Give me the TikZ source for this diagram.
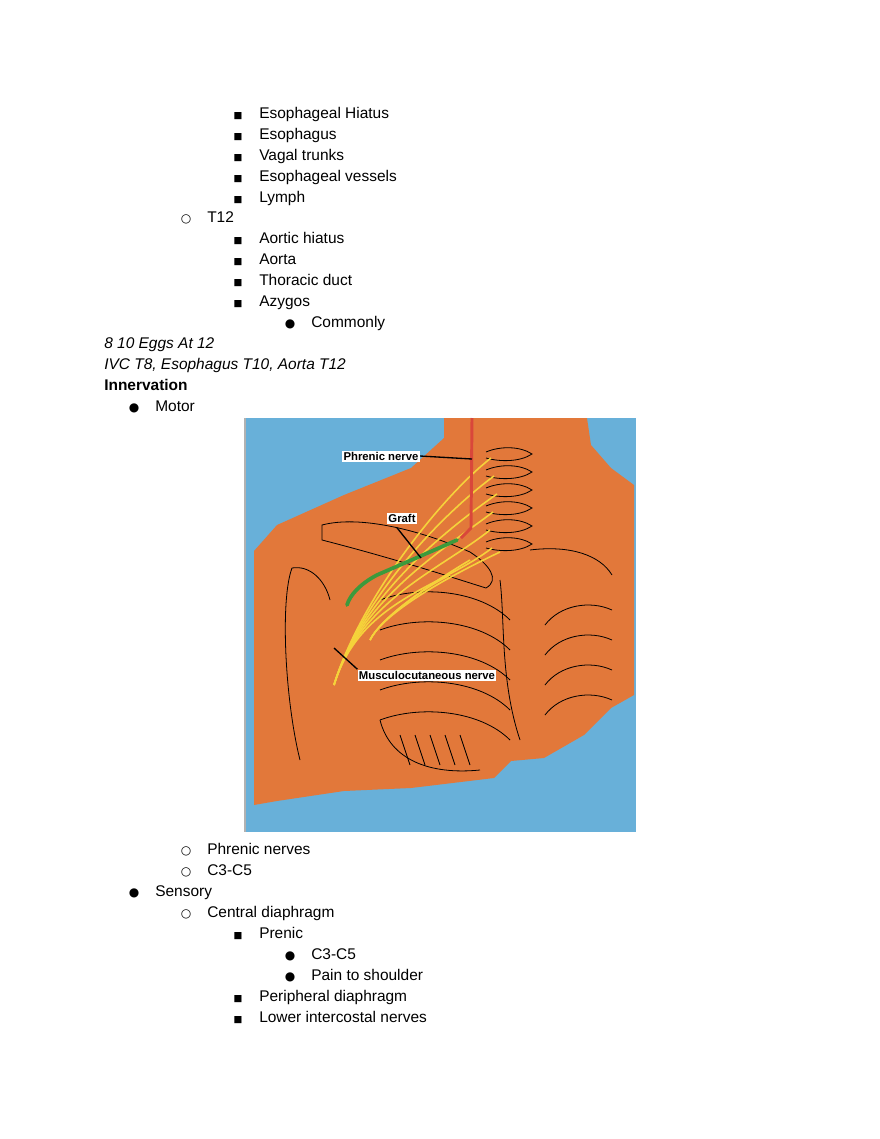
\documentclass[tikz,border=0pt]{standalone}
\usepackage{fontspec}
\setmainfont{Liberation Sans}
\newfontfamily\symfont{DejaVu Sans}
\usetikzlibrary{positioning,calc}
\definecolor{skyblue}{HTML}{68B0D9}
\definecolor{bodyorange}{HTML}{E2783A}
\definecolor{nervered}{HTML}{D9473A}
\definecolor{nerveyellow}{HTML}{F5D23A}
\definecolor{graftgreen}{HTML}{3C9A3C}
\tikzset{every node/.append style={inner sep=0pt},
  txt/.style={anchor=base west,font=\fontsize{11.6}{14}\selectfont},
  sq/.style={anchor=base,font=\symfont\fontsize{7}{8}\selectfont},
  circ/.style={anchor=base,font=\symfont\fontsize{9}{10}\selectfont},
  lbl/.style={fill=white,inner sep=1pt,font=\bfseries\fontsize{8.5}{10}\selectfont},
  art/.style={black,line width=0.6pt}}
\begin{document}
\begin{tikzpicture}[x=0.75pt,y=-0.75pt]
    \useasboundingbox (0,0) rectangle (880,1139);
    % list above the picture
    \node[sq] at (238,118) {■}; \node[txt] (hiat) at (259,118) {Esophageal Hiatus};
    \node[sq] at (238,139) {■}; \node[txt] (eso) at (259,139) {Esophagus};
    \node[sq] at (238,160) {■}; \node[txt] (vag) at (259,160) {Vagal trunks};
    \node[sq] at (238,181) {■}; \node[txt] (vess) at (259,181) {Esophageal vessels};
    \node[sq] at (238,202) {■}; \node[txt] (lym) at (259,202) {Lymph};
    \node[circ] at (186,222) {○}; \node[txt] (t12) at (207,222) {T12};
    \node[sq] at (238,243) {■}; \node[txt] (aoh) at (259,243) {Aortic hiatus};
    \node[sq] at (238,264) {■}; \node[txt] (aor) at (259,264) {Aorta};
    \node[sq] at (238,285) {■}; \node[txt] (thd) at (259,285) {Thoracic duct};
    \node[sq] at (238,306) {■}; \node[txt] (azy) at (259,306) {Azygos};
    \node[circ] at (290,327) {●}; \node[txt] (com) at (311,327) {Commonly};
    \node[txt,font=\itshape\fontsize{11.6}{14}\selectfont] (eggs) at (104,348) {8 10 Eggs At 12};
    \node[txt,font=\itshape\fontsize{11.6}{14}\selectfont] (ivc) at (104,369) {IVC T8, Esophagus T10, Aorta T12};
    \node[txt,font=\bfseries\fontsize{11.6}{14}\selectfont] (inn) at (104,390) {Innervation};
    \node[circ] at (134,411) {●}; \node[txt] (mot) at (155,411) {Motor};

    % picture
    \fill[skyblue] (246,418) rectangle (636,832);
    \draw[gray!60,line width=1.2pt] (245,418) -- (245,832);
    \fill[bodyorange] (444,418) -- (587,418) -- (591,445) -- (611,468) -- (634,485)
      -- (634,695) -- (611,708) -- (584,735) -- (544,758) -- (511,761) -- (494,778)
      -- (411,788) -- (344,791) -- (277,801) -- (254,805) -- (254,551) -- (277,525)
      -- (344,495) -- (411,468) -- (444,438) -- cycle;
    % vertebrae and ribs
    \foreach \y in {452,470,488,506,524,542}
      \draw[art] (486,\y) .. controls (500,\y-6) and (520,\y-6) .. (532,\y+2)
        .. controls (520,\y+10) and (500,\y+10) .. (486,\y+6);
    \draw[art] (322,525) .. controls (360,515) and (420,530) .. (470,552)
      .. controls (490,565) and (500,580) .. (486,588) .. controls (460,580) and (400,560) .. (322,540) -- cycle;
    \draw[art] (530,550) .. controls (570,545) and (600,555) .. (612,575);
    \draw[art] (292,568) .. controls (280,600) and (285,700) .. (300,760);
    \draw[art] (292,568) .. controls (310,565) and (325,580) .. (330,600);
    \foreach \y in {600,630,660,690,720}
      \draw[art] (380,\y) .. controls (420,\y-15) and (480,\y-10) .. (510,\y+20);
    \foreach \y in {610,640,670,700}
      \draw[art] (612,\y) .. controls (590,\y-10) and (560,\y-5) .. (545,\y+15);
    \draw[art] (380,720) .. controls (390,760) and (430,775) .. (480,770);
    \foreach \x in {400,415,430,445,460}
      \draw[art] (\x,735) -- (\x+10,765);
    \draw[art] (500,580) .. controls (505,620) and (500,680) .. (520,740);
    % nerves
    \foreach \a/\b in {491/458,494/476,497/494,493/512,490/530,492/548}
      \draw[nerveyellow,line width=1.2pt] (\a,\b) .. controls (440,\b+40) and (360,600) .. (334,685);
    \foreach \a/\b in {500/552,470/560,450/575}
      \draw[nerveyellow,line width=1.2pt] (\a,\b) .. controls (420,590) and (380,620) .. (370,640);
    \draw[nervered,line width=2.2pt] (472,418) -- (471,528) -- (461,538);
    \draw[graftgreen,line width=2.8pt,line cap=round] (457,540) .. controls (430,552) and (400,565) .. (377,575)
      .. controls (360,584) and (350,595) .. (347,605);
    % labels
    \node[lbl] (phr) at (381,456) {Phrenic nerve};
    \coordinate (phrend) at (472,459);
    \draw[line width=1pt] (phr.east) -- (phrend);
    \node[lbl] (gra) at (402,518) {Graft};
    \coordinate (graend) at (421,558);
    \draw[line width=1pt] (gra.south) ++(-5,4) -- (graend);
    \node[lbl] (mus) at (427,675) {Musculocutaneous nerve};
    \coordinate (musend) at (334,648);
    \draw[line width=1pt] (musend) -- (mus.north west);

    % list below the picture
    \node[circ] at (186,854) {○}; \node[txt] (phn) at (207,854) {Phrenic nerves};
    \node[circ] at (186,875) {○}; \node[txt] (cc) at (207,875) {C3-C5};
    \node[circ] at (134,896) {●}; \node[txt] (sen) at (155,896) {Sensory};
    \node[circ] at (186,917) {○}; \node[txt] (cen) at (207,917) {Central diaphragm};
    \node[sq] at (238,938) {■}; \node[txt] (pre) at (259,938) {Prenic};
    \node[circ] at (290,959) {●}; \node[txt] (pcc) at (311,959) {C3-C5};
    \node[circ] at (290,980) {●}; \node[txt] (pai) at (311,980) {Pain to shoulder};
    \node[sq] at (238,1001) {■}; \node[txt] (per) at (259,1001) {Peripheral diaphragm};
    \node[sq] at (238,1022) {■}; \node[txt] (low) at (259,1022) {Lower intercostal nerves};
\end{tikzpicture}
\end{document}
